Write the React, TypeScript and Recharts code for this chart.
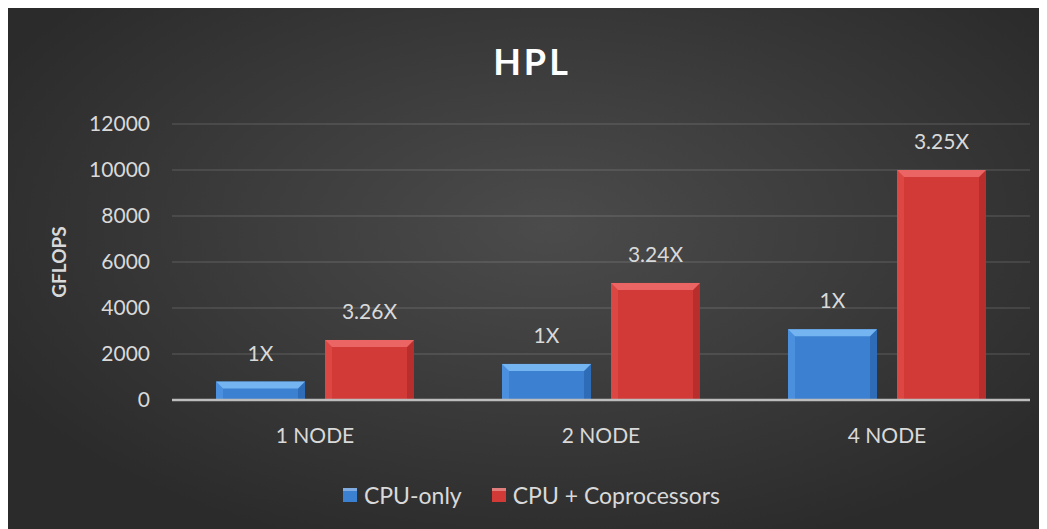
import React from 'react';
import { BarChart, Bar, XAxis, YAxis, CartesianGrid, Legend, LabelList } from 'recharts';

const categories = ['1 NODE', '2 NODE', '4 NODE'];
const cpuOnly = [800, 1570, 3077];
const cpuCoproc = [2610, 5090, 10000];
const cpuOnlyLabels = ['1X', '1X', '1X'];
const cpuCoprocLabels = ['3.26X', '3.24X', '3.25X'];
const yTicks = [0, 2000, 4000, 6000, 8000, 10000, 12000];
const seriesNames = ['CPU-only', 'CPU + Coprocessors'];
const title = 'HPL';
const yTitle = 'GFLOPS';

const data = categories.map((c, i) => ({
  name: c,
  cpu: cpuOnly[i],
  cop: cpuCoproc[i],
  cpuLabel: cpuOnlyLabels[i],
  copLabel: cpuCoprocLabels[i],
}));

const FONT = 'Lato, "Open Sans", sans-serif';
const TEXT = '#d9d9d9';

const makeShape = (base: string, top: string, left: string, right: string) => (props: any) => {
  const { x, y, width, height } = props;
  if (!height || height <= 0) return null;
  const b = Math.min(7, height / 2, width / 2);
  return (
    <g>
      <rect x={x} y={y} width={width} height={height} fill={base} />
      <polygon points={`${x},${y} ${x + b},${y + b} ${x + b},${y + height} ${x},${y + height}`} fill={left} />
      <polygon points={`${x + width},${y} ${x + width - b},${y + b} ${x + width - b},${y + height} ${x + width},${y + height}`} fill={right} />
      <polygon points={`${x},${y} ${x + width},${y} ${x + width - b},${y + b} ${x + b},${y + b}`} fill={top} />
    </g>
  );
};

const blueShape = makeShape('#3c80d2', '#74b4f0', '#4a90de', '#2f6cb8');
const redShape = makeShape('#d23a37', '#ea6563', '#dc4744', '#b82e2c');

const legendColors = ['#3c80d2', '#d23a37'];

const renderLegend = () => (
  <div style={{ height: 30, display: 'flex', justifyContent: 'center', alignItems: 'center', fontFamily: FONT, fontSize: 23, color: TEXT, paddingLeft: 10 }}>
    {seriesNames.map((n, i) => (
      <div key={n} style={{ display: 'flex', alignItems: 'center', marginRight: i === 0 ? 30 : 0 }}>
        <div style={{ width: 14, height: 14, background: legendColors[i], marginRight: 7, boxShadow: 'inset 0 3px 0 rgba(255,255,255,0.35)' }} />
        <span>{n}</span>
      </div>
    ))}
  </div>
);

export default function App() {
  return (
    <div
      style={{
        marginLeft: -2,
        width: 1041,
        height: 521,
        background: 'radial-gradient(ellipse 60% 65% at 52% 42%, #4b4b4b 0%, #3d3d3d 45%, #2b2b2b 100%)',
      }}
    >
      <BarChart
        width={1041}
        height={521}
        data={data}
        margin={{ top: 116, right: 17, left: 0, bottom: 59 }}
        barSize={89}
        barGap={20}
      >
        <text x={526} y={67} textAnchor="middle" fill="#ffffff" fontFamily={FONT} fontWeight={700} fontSize={36} letterSpacing={3}>
          {title}
        </text>
        <text
          x={0}
          y={0}
          transform="translate(60,254) rotate(-90)"
          textAnchor="middle"
          fill={TEXT}
          fontFamily={FONT}
          fontWeight={700}
          fontSize={19}
        >
          {yTitle}
        </text>
        <CartesianGrid vertical={false} stroke="rgba(255,255,255,0.13)" strokeWidth={1.5} />
        <XAxis
          dataKey="name"
          height={40}
          tickLine={false}
          tickSize={0}
          tickMargin={28}
          axisLine={{ stroke: '#bdbdbd', strokeWidth: 2.5 }}
          tick={{ fill: TEXT, fontSize: 21, fontFamily: FONT }}
        />
        <YAxis
          width={166}
          domain={[0, 12000]}
          ticks={yTicks}
          interval={0}
          tickLine={false}
          axisLine={false}
          tickSize={0}
          tickMargin={22}
          tick={{ fill: TEXT, fontSize: 21, fontFamily: FONT }}
        />
        <Legend content={renderLegend} wrapperStyle={{ top: 472, bottom: 'auto', left: 0, width: 1041 }} />
        <Bar dataKey="cpu" name={seriesNames[0]} fill={legendColors[0]} shape={blueShape} isAnimationActive={false}>
          <LabelList dataKey="cpuLabel" position="top" offset={21} fill={TEXT} fontSize={21} fontFamily={FONT} />
        </Bar>
        <Bar dataKey="cop" name={seriesNames[1]} fill={legendColors[1]} shape={redShape} isAnimationActive={false}>
          <LabelList dataKey="copLabel" position="top" offset={21} fill={TEXT} fontSize={21} fontFamily={FONT} />
        </Bar>
      </BarChart>
    </div>
  );
}
